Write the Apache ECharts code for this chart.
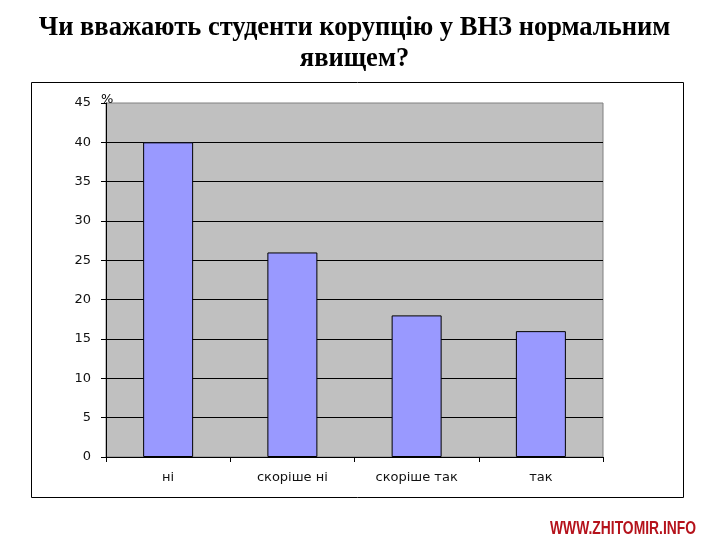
<!DOCTYPE html>
<html>
<head>
<meta charset="utf-8">
<script src="https://cdn.jsdelivr.net/npm/echarts@6/dist/echarts.min.js"></script>
<style>html,body{margin:0;padding:0;background:#fff;}#c{width:709px;height:543px;}</style>
</head>
<body>
<div id="c"></div>
<script>
const categories = ['ні', 'скоріше ні', 'скоріше так', 'так'];
const values = [40, 26, 18, 16];
const yTicks = { min: 0, max: 45, interval: 5 };
const titleText = 'Чи вважають студенти корупцію у ВНЗ нормальним\nявищем?';
const unitLabel = '%';
const watermark = 'WWW.ZHITOMIR.INFO';

const chart = echarts.init(document.getElementById('c'));
chart.setOption({
  backgroundColor: '#ffffff',
  animation: false,
  title: {
    text: titleText,
    left: 'center',
    top: 8,
    textStyle: {
      fontFamily: "'Liberation Serif', 'Times New Roman', serif",
      fontWeight: 'bold',
      fontSize: 26.5,
      lineHeight: 31,
      color: '#000'
    }
  },
  grid: {
    left: 106, right: 106, top: 103, bottom: 86,
    show: true,
    backgroundColor: '#C0C0C0',
    borderColor: '#808080',
    borderWidth: 1
  },
  xAxis: {
    type: 'category',
    data: categories,
    axisLine: { lineStyle: { color: '#000', width: 1 } },
    axisTick: { show: true, length: 5, lineStyle: { color: '#000' } },
    axisLabel: {
      margin: 14,
      fontFamily: "'DejaVu Sans', sans-serif",
      fontSize: 13,
      color: '#111'
    }
  },
  yAxis: {
    type: 'value',
    min: yTicks.min, max: yTicks.max, interval: yTicks.interval,
    axisLine: { show: true, lineStyle: { color: '#000', width: 1 } },
    axisTick: { show: true, length: 5, lineStyle: { color: '#000' } },
    axisLabel: {
      margin: 15,
      fontFamily: "'DejaVu Sans', sans-serif",
      fontSize: 13,
      color: '#111'
    },
    splitLine: { show: true, showMaxLine: false, lineStyle: { color: '#000', width: 1 } }
  },
  series: [{
    type: 'bar',
    data: values,
    barWidth: 50,
    itemStyle: { color: '#9999FF', borderColor: '#000', borderWidth: 1 }
  }],
  graphic: [
    {
      type: 'rect', silent: true, z: -1,
      shape: { x: 31.5, y: 82.5, width: 652, height: 415 },
      style: { fill: 'none', stroke: '#000', lineWidth: 1 }
    },
    {
      type: 'text', x: 101, y: 93, z: 10,
      style: { text: unitLabel, font: "13px 'DejaVu Sans', sans-serif", fill: '#000' }
    },
    {
      type: 'text', x: 550, y: 520, scaleX: 0.77,
      style: { text: watermark, font: "bold 18px 'Liberation Sans', Arial, sans-serif", fill: '#B5121B' }
    }
  ]
});
</script>
</body>
</html>
